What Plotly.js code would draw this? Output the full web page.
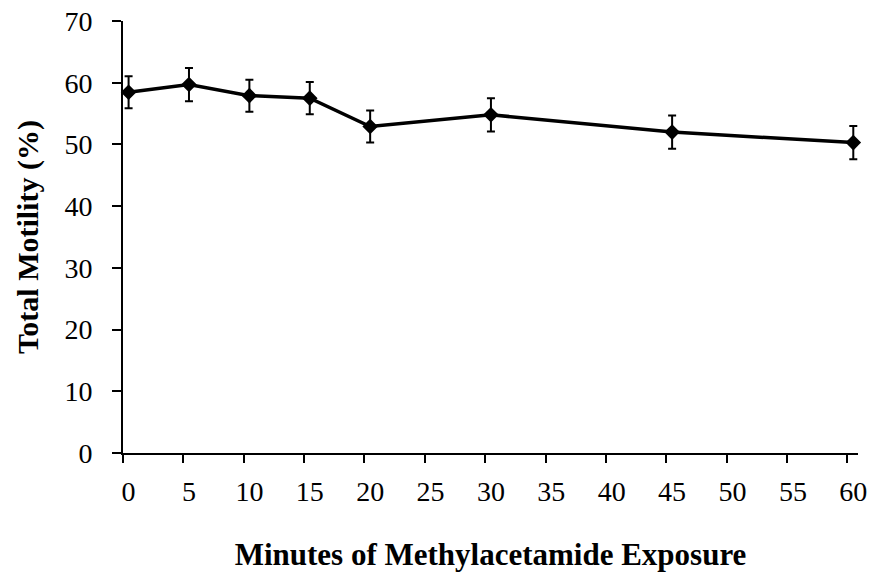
<!DOCTYPE html>
<html>
<head>
<meta charset="utf-8">
<script src="https://cdn.plot.ly/plotly-3.0.1.min.js"></script>
<style>html,body{margin:0;padding:0;background:#fff;}#chart{width:873px;height:577px;}</style>
</head>
<body>
<div id="chart"></div>
<script>
const minutes = [0, 5, 10, 15, 20, 30, 45, 60];
const motility = [58.45, 59.7, 57.9, 57.5, 52.9, 54.8, 52.0, 50.3];
const motilityErr = [2.6, 2.7, 2.6, 2.6, 2.6, 2.7, 2.7, 2.7];
const xTickVals = [0, 5, 10, 15, 20, 25, 30, 35, 40, 45, 50, 55, 60];
const yTickVals = [0, 10, 20, 30, 40, 50, 60, 70];

const serif = 'Liberation Serif, Times New Roman, serif';
const tickFont = {family: serif, size: 28, color: '#000'};

const trace = {
  x: minutes,
  y: motility,
  type: 'scatter',
  mode: 'lines+markers',
  line: {color: '#000', width: 3.5},
  marker: {symbol: 'diamond', size: 12, color: '#000'},
  error_y: {type: 'data', array: motilityErr, visible: true, color: '#000', thickness: 2, width: 4},
  showlegend: false,
  cliponaxis: false
};

const layout = {
  width: 873,
  height: 577,
  paper_bgcolor: '#fff',
  plot_bgcolor: '#fff',
  margin: {l: 123, r: 15, t: 21, b: 124},
  xaxis: {
    range: [-0.463, 60.39],
    tickvals: xTickVals,
    ticktext: xTickVals.map(String),
    ticks: 'outside',
    ticklen: 8,
    tickcolor: 'rgba(0,0,0,0)',
    ticklabelstandoff: 5,
    showline: false,
    showgrid: false,
    zeroline: false,
    tickfont: tickFont,
    title: {text: '<b>Minutes of Methylacetamide Exposure</b>', font: {family: serif, size: 31, color: '#000'}, standoff: 37}
  },
  xaxis2: {
    overlaying: 'x',
    anchor: 'y',
    side: 'bottom',
    range: [0, 60.88],
    tickvals: xTickVals,
    ticks: 'outside',
    ticklen: 8,
    tickwidth: 2,
    tickcolor: '#000',
    showticklabels: false,
    showline: true,
    linecolor: '#000',
    linewidth: 2,
    showgrid: false,
    zeroline: false
  },
  yaxis: {
    range: [0, 70],
    tickvals: yTickVals,
    ticks: 'outside',
    ticklen: 9,
    tickwidth: 2,
    tickcolor: '#000',
    ticklabelstandoff: 14,
    showline: true,
    linecolor: '#000',
    linewidth: 2,
    showgrid: false,
    zeroline: false,
    tickfont: tickFont,
    title: {text: '<b>Total Motility (%)</b>', font: {family: serif, size: 30, color: '#000'}, standoff: 17}
  }
};

Plotly.newPlot('chart', [trace, {x: [], y: [], xaxis: 'x2', yaxis: 'y', showlegend: false, hoverinfo: 'skip'}], layout, {staticPlot: true, displayModeBar: false});
</script>
</body>
</html>
